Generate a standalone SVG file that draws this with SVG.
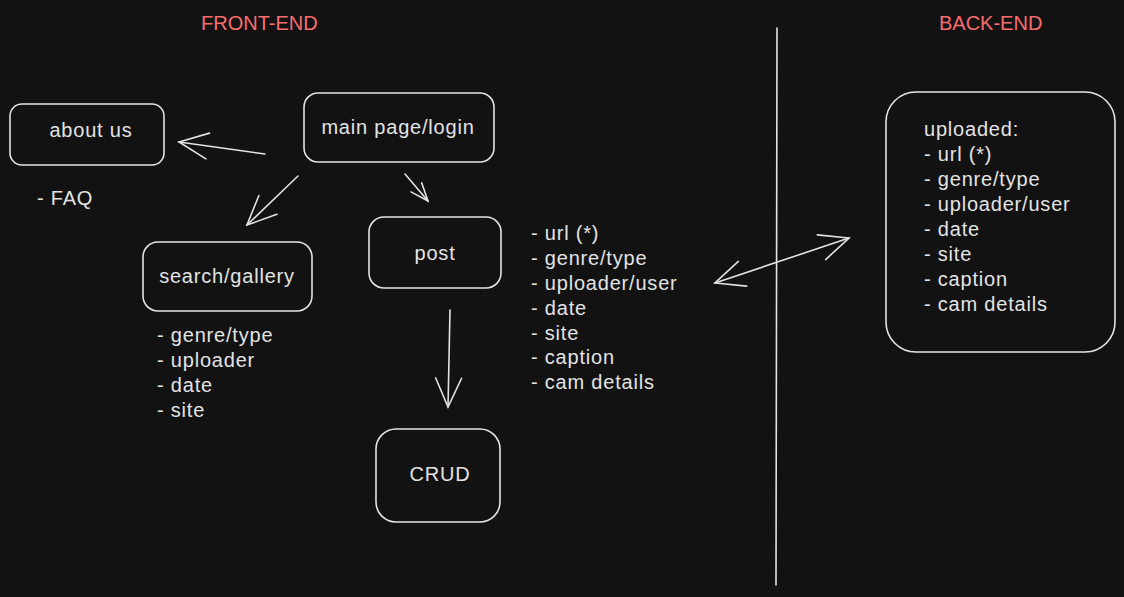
<svg xmlns="http://www.w3.org/2000/svg" width="1124" height="597" viewBox="0 0 1124 597">
<style>
.bg{fill:#121212}
.box{fill:none;stroke:#e3e3e3;stroke-width:1.6}
.t{font-family:"Liberation Sans",Arial,sans-serif;font-size:20px;fill:#e3e3e3;letter-spacing:0.8px}
.c{text-anchor:middle}
.title{font-family:"Liberation Sans",Arial,sans-serif;font-size:20px;fill:#f76d6d}
.ln{fill:none;stroke:#e3e3e3;stroke-width:1.6;stroke-linecap:round;stroke-linejoin:round}
</style>
<defs>
<marker id="ah" markerUnits="userSpaceOnUse" markerWidth="34" markerHeight="30" viewBox="0 0 34 30" refX="31" refY="15" orient="auto-start-reverse">
<path d="M2,2 L31,15 L2,28" fill="none" stroke="#e3e3e3" stroke-width="1.6" stroke-linecap="round"/>
</marker>
<marker id="ahs" markerUnits="userSpaceOnUse" markerWidth="22" markerHeight="20" viewBox="0 0 22 20" refX="20" refY="10" orient="auto">
<path d="M2,3 L20,10 L2,17" fill="none" stroke="#e3e3e3" stroke-width="1.6" stroke-linecap="round"/>
</marker>
</defs>
<rect class="bg" x="0" y="0" width="1124" height="597"/>

<text class="title" x="201" y="30">FRONT-END</text>
<text class="title" x="939" y="30">BACK-END</text>

<g id="connectors">
<line class="ln" x1="777" y1="28" x2="776" y2="585"/>
<line class="ln" x1="265" y1="154" x2="179" y2="142" marker-end="url(#ah)"/>
<line class="ln" x1="298" y1="176" x2="247" y2="225" marker-end="url(#ah)"/>
<line class="ln" x1="405" y1="174" x2="428" y2="201" marker-end="url(#ahs)"/>
<line class="ln" x1="450" y1="310" x2="448" y2="407" marker-end="url(#ah)"/>
<line class="ln" x1="715" y1="283" x2="849" y2="238" marker-start="url(#ah)" marker-end="url(#ah)"/>
</g>

<g id="about-us">
<rect class="box" x="10" y="104" width="154" height="61" rx="12"/>
<text class="t c" x="91" y="137">about us</text>
</g>
<g id="faq">
<text class="t" x="37" y="205">- FAQ</text>
</g>

<g id="main-page">
<rect class="box" x="304" y="93" width="190" height="69" rx="14"/>
<text class="t c" x="398" y="134">main page/login</text>
</g>

<g id="search-gallery">
<rect class="box" x="143" y="242" width="169" height="69" rx="15"/>
<text class="t c" x="227" y="283">search/gallery</text>
</g>
<g id="search-list">
<text class="t" x="157" y="342">- genre/type</text>
<text class="t" x="157" y="367">- uploader</text>
<text class="t" x="157" y="392">- date</text>
<text class="t" x="157" y="417">- site</text>
</g>

<g id="post">
<rect class="box" x="369" y="217" width="132" height="71" rx="15"/>
<text class="t c" x="435" y="260">post</text>
</g>
<g id="post-list">
<text class="t" x="531" y="240">- url (*)</text>
<text class="t" x="531" y="265">- genre/type</text>
<text class="t" x="531" y="290">- uploader/user</text>
<text class="t" x="531" y="315">- date</text>
<text class="t" x="531" y="340">- site</text>
<text class="t" x="531" y="364">- caption</text>
<text class="t" x="531" y="389">- cam details</text>
</g>

<g id="crud">
<rect class="box" x="376" y="429" width="124" height="93" rx="20"/>
<text class="t c" x="440" y="481">CRUD</text>
</g>

<g id="uploaded">
<rect class="box" x="886" y="92" width="229" height="260" rx="30"/>
<text class="t" x="924" y="136">uploaded:</text>
<text class="t" x="924" y="161">- url (*)</text>
<text class="t" x="924" y="186">- genre/type</text>
<text class="t" x="924" y="211">- uploader/user</text>
<text class="t" x="924" y="236">- date</text>
<text class="t" x="924" y="261">- site</text>
<text class="t" x="924" y="286">- caption</text>
<text class="t" x="924" y="311">- cam details</text>
</g>
</svg>
